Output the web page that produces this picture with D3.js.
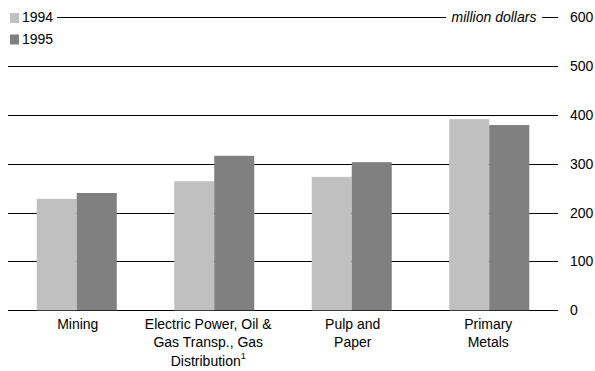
<!DOCTYPE html>
<html>
<head>
<meta charset="utf-8">
<script src="https://cdn.jsdelivr.net/npm/d3@7"></script>
<style>
  html, body { margin: 0; padding: 0; background: #fff; }
  svg { display: block; font-family: "Liberation Sans", Arial, sans-serif; }
</style>
</head>
<body>
<svg id="chart" width="595" height="371"></svg>
<script>
// Categories (each label split into its display lines)
const categories = ["Mining", "Electric Power", "Pulp and Paper", "Primary Metals"];
const categoryLines = [
  ["Mining"],
  ["Electric Power, Oil &", "Gas Transp., Gas", "Distribution"],
  ["Pulp and", "Paper"],
  ["Primary", "Metals"]
];
const series = ["1994", "1995"];
const values1994 = [228, 264, 273, 391];
const values1995 = [240, 316, 303, 379];
const colors = ["#c0c0c0", "#808080"];
const yTicks = [0, 100, 200, 300, 400, 500, 600];
const unitLabel = "million dollars";

const svg = d3.select("#chart");
const plotLeft = 8, plotRight = 558, plotTop = 17, plotBottom = 310.3;

const x = d3.scaleBand().domain(categories).range([plotLeft, plotRight])
  .paddingInner(0.418).paddingOuter(0.209);
const xs = d3.scaleBand().domain(series).range([0, x.bandwidth()]);
const y = d3.scaleLinear().domain([0, 600]).range([plotBottom, plotTop]);

// Horizontal gridlines; the top one leaves room for the legend and unit label
const grid = svg.append("g");
yTicks.forEach(t => {
  const yy = Math.round(y(t)) + 0.5;
  if (t === 600) {
    grid.append("line").attr("x1", 57).attr("x2", 446).attr("y1", yy).attr("y2", yy);
    grid.append("line").attr("x1", 542).attr("x2", plotRight).attr("y1", yy).attr("y2", yy);
  } else {
    grid.append("line").attr("x1", plotLeft).attr("x2", plotRight).attr("y1", yy).attr("y2", yy);
  }
});
grid.selectAll("line").attr("stroke", "#000").attr("stroke-width", 1);

// Value axis labels on the right
const yAxis = d3.axisRight(y).tickValues(yTicks).tickSize(0).tickPadding(0);
const ya = svg.append("g").attr("transform", `translate(570,0)`).call(yAxis);
ya.select(".domain").remove();
ya.selectAll("text").attr("font-size", 14).attr("fill", "#000")
  .attr("font-family", "Liberation Sans, Arial, sans-serif")
  .attr("text-anchor", "start");

svg.append("text").attr("x", 494).attr("y", 22).attr("text-anchor", "middle")
  .attr("font-size", 14).attr("font-style", "italic").text(unitLabel);

// Bars
const data = categories.map((c, i) => ({ c, vals: [values1994[i], values1995[i]] }));
const groups = svg.append("g").selectAll("g").data(data).join("g")
  .attr("transform", d => `translate(${x(d.c)},0)`);
groups.selectAll("rect").data(d => d.vals.map((v, j) => ({ s: series[j], v, j })))
  .join("rect")
  .attr("x", d => xs(d.s))
  .attr("width", xs.bandwidth())
  .attr("y", d => y(d.v))
  .attr("height", d => y(0) - y(d.v))
  .attr("fill", d => colors[d.j]);

// Category labels (the long three-line label sits slightly left of its bars)
const labelShift = [1, -6, 1, -1];
const labels = svg.append("g");
categories.forEach((c, i) => {
  const cx = x(c) + x.bandwidth() / 2 + labelShift[i];
  const t = labels.append("text").attr("text-anchor", "middle").attr("font-size", 14).attr("fill", "#000");
  categoryLines[i].forEach((line, k) => {
    t.append("tspan").attr("x", cx).attr("y", 329 + k * 18.3).text(line);
    if (i === 1 && k === 2) {
      t.append("tspan").attr("font-size", 9).attr("dy", -7).text("1");
    }
  });
});

// Legend
const legend = svg.append("g");
series.forEach((s, i) => {
  legend.append("rect").attr("x", 10).attr("y", 13 + i * 21.5).attr("width", 9).attr("height", 10)
    .attr("fill", colors[i]);
  legend.append("text").attr("x", 22).attr("y", 22 + i * 21.5).attr("font-size", 14).text(s);
});
</script>
</body>
</html>
